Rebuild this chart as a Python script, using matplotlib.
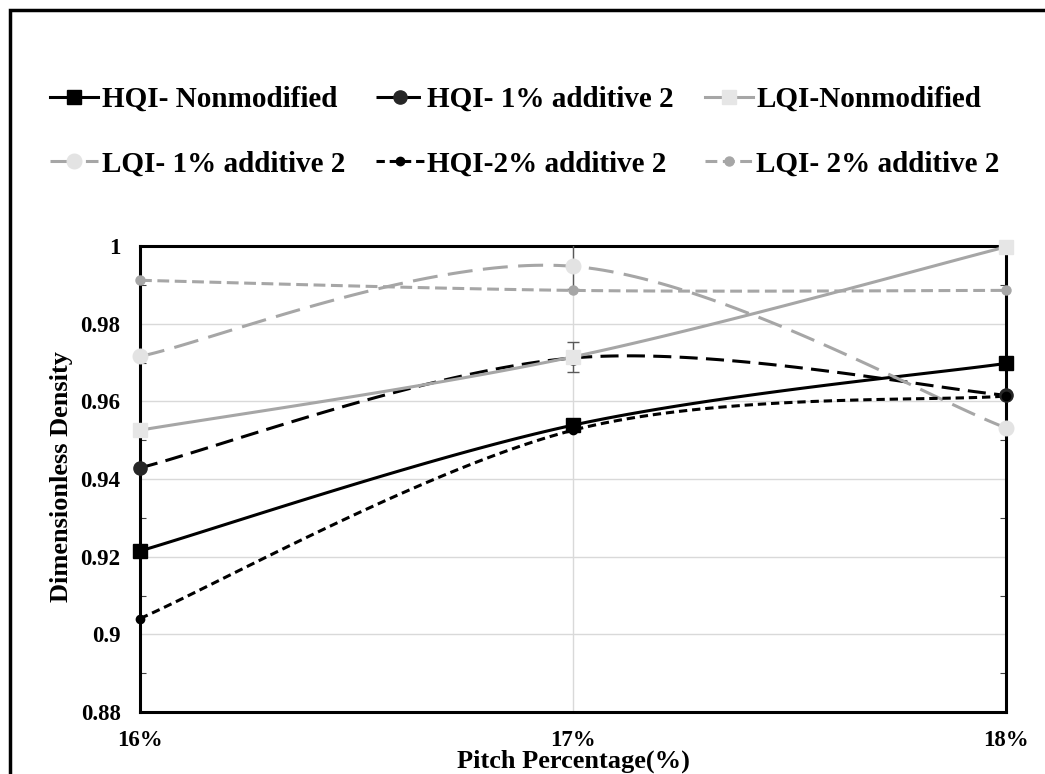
import matplotlib
matplotlib.use("Agg")
import matplotlib.pyplot as plt
import numpy as np
from matplotlib.lines import Line2D
from matplotlib.patches import Rectangle
from matplotlib.ticker import MultipleLocator, FuncFormatter

plt.rcParams['font.family'] = ['Liberation Serif', 'DejaVu Serif']
plt.rcParams['font.weight'] = 'bold'
plt.rcParams['lines.scale_dashes'] = False

# pitch percentage (%) and dimensionless density for each mix
pitch = [16, 17, 18]
tick_labels = ["16%", "17%", "18%"]

hqi_nonmod = [0.9215, 0.9539, 0.9698]
hqi_1pct = [0.9429, 0.9712, 0.9616]
lqi_nonmod = [0.9526, 0.9715, 0.9998]
lqi_1pct = [0.9716, 0.9948, 0.9532]
hqi_2pct = [0.9041, 0.9526, 0.9614]
lqi_2pct = [0.9912, 0.9886, 0.9886]

# error bars at 17% (index 1)
lqi_nonmod_err = [0, 0.0038, 0]
lqi_1pct_err = [0, 0.0058, 0]


def smooth_curve(x, y, n=60):
    """Excel-style smoothed line: cubic Bezier segments with 1/6 tangents."""
    x = np.asarray(x, float)
    y = np.asarray(y, float)
    pts = np.column_stack([x, y])
    out = []
    for i in range(len(pts) - 1):
        p0 = pts[i - 1] if i > 0 else pts[i]
        p1, p2 = pts[i], pts[i + 1]
        p3 = pts[i + 2] if i + 2 < len(pts) else pts[i + 1]
        c1 = p1 + (p2 - p0) / 6.0
        c2 = p2 - (p3 - p1) / 6.0
        t = np.linspace(0, 1, n)[:, None]
        seg = ((1 - t) ** 3) * p1 + 3 * ((1 - t) ** 2) * t * c1 \
            + 3 * (1 - t) * t ** 2 * c2 + t ** 3 * p2
        out.append(seg if i == 0 else seg[1:])
    seg = np.vstack(out)
    return seg[:, 0], seg[:, 1]


fig = plt.figure(figsize=(10.45, 7.74), dpi=100)
ax = fig.add_axes([0.134, 0.080, 0.8287, 0.602])

series = [
    # label, values, line color, dashes, marker, marker size, marker color, lw
    ("HQI- Nonmodified", hqi_nonmod, "#000000", None, "s", 9.5, "#000000", 2.2),
    ("HQI- 1% additive 2", hqi_1pct, "#000000", (13, 6), "o", 9.5, "#262626", 2.2),
    ("LQI-Nonmodified", lqi_nonmod, "#A6A6A6", None, "s", 10.5, "#E6E6E6", 2.2),
    ("LQI- 1% additive 2", lqi_1pct, "#A6A6A6", (18, 7.5), "o", 10.5, "#E3E3E3", 2.2),
    ("HQI-2% additive 2", hqi_2pct, "#000000", (6, 3.5), "o", 6, "#000000", 2.2),
    ("LQI- 2% additive 2", lqi_2pct, "#A6A6A6", (8.5, 4), "o", 6.5, "#A6A6A6", 2.2),
]

# error bars sit underneath the markers
ax.errorbar(pitch, lqi_nonmod, yerr=lqi_nonmod_err, fmt="none", ecolor="#595959",
            elinewidth=1, capsize=4, capthick=1, zorder=3)
ax.errorbar(pitch, lqi_1pct, yerr=lqi_1pct_err, fmt="none", ecolor="#595959",
            elinewidth=1, capsize=4, capthick=1, zorder=3)

handles = []
for label, vals, color, dashes, marker, ms, mcolor, lw in series:
    sx, sy = smooth_curve(pitch, vals)
    if dashes is None:
        ax.plot(sx, sy, color=color, lw=lw, solid_capstyle="butt", zorder=4)
        ls = "-"
    else:
        ax.plot(sx, sy, color=color, lw=lw, dashes=dashes, zorder=4)
        ls = (0, dashes)
    ax.plot(pitch, vals, linestyle="none", marker=marker, ms=ms, mfc=mcolor,
            mec=mcolor, zorder=5, clip_on=False)
    handles.append(Line2D([0], [0], color=color, lw=lw, linestyle=ls,
                          marker=marker, ms=ms, mfc=mcolor, mec=mcolor, label=label))

ax.set_xlim(16, 18)
ax.set_ylim(0.88, 1.0)
ax.set_xticks(pitch)
ax.set_xticklabels(tick_labels)
ax.yaxis.set_major_locator(MultipleLocator(0.02))
ax.yaxis.set_minor_locator(MultipleLocator(0.01))
ax.yaxis.set_major_formatter(FuncFormatter(lambda v, _: f"{v:g}"))

ax.grid(True, which="major", color="#D9D9D9", lw=1.0, zorder=0)
ax.set_axisbelow(True)
ax.tick_params(axis="both", which="major", length=0, labelsize=16.5)
ax.tick_params(axis="y", which="major", pad=14)
ax.tick_params(axis="x", which="major", pad=13)
ax.tick_params(axis="y", which="minor", direction="in", length=4, width=0.8,
               left=True, right=True, color="#404040")

for side in ["left", "right", "top", "bottom"]:
    ax.spines[side].set_color("#000000")
    ax.spines[side].set_linewidth(2.2)

ax.set_xlabel("Pitch Percentage(%)", fontsize=19, fontweight="bold")
ax.xaxis.set_label_coords(0.5, -0.081)
ax.set_ylabel("Dimensionless Density", fontsize=19, fontweight="bold", va="center")
ax.yaxis.set_label_coords(-0.091, 0.505)

# legend: 3 columns, row-major order like the chart key
order = [0, 3, 1, 4, 2, 5]
fig.legend([handles[i] for i in order], [handles[i].get_label() for i in order],
           ncol=3, loc="upper left", bbox_to_anchor=(50 / 1045, 1 - 86 / 774),
           frameon=False, handlelength=1.65, handletextpad=0.12,
           columnspacing=1.05, labelspacing=1.29, borderpad=0, borderaxespad=0,
           prop={"weight": "bold", "size": 21})

# outer chart border (only top and left edges fall inside the canvas)
fig.patches.append(Rectangle((10 / 1045, -0.05), 1.2, 1 - 10 / 774 + 0.05,
                             transform=fig.transFigure, fill=False,
                             edgecolor="#000000", lw=2.5))

fig.savefig("out.png", dpi=100)
